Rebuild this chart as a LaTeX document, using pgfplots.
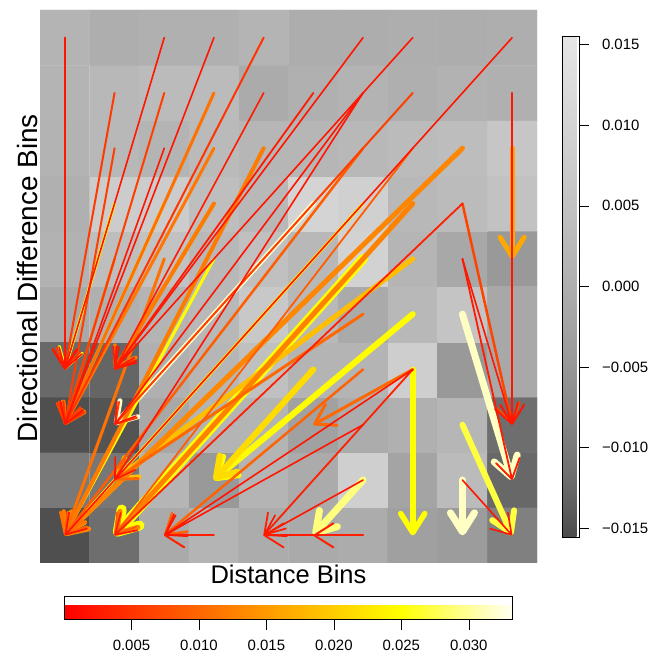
\documentclass[border=0pt]{standalone}
\usepackage{fontspec}
\setmainfont{Liberation Sans}
\usepackage{pgfplots}
\usepgfplotslibrary{colormaps}
\usetikzlibrary{arrows.meta}
\pgfplotsset{compat=1.18}

% heatmap cells: column x, row y (y=1 is the bottom row)
\pgfplotstableread{
x y v
1 1 -0.0152
2 1 -0.0118
3 1 -0.0009
4 1 0.0014
5 1 -0.0005
6 1 -0.0009
7 1 -0.0005
8 1 -0.0032
9 1 -0.0040
10 1 -0.0091
1 2 -0.0101
2 2 -0.0105
3 2 0.0017
4 2 -0.0046
5 2 0.0014
6 2 -0.0007
7 2 0.0086
8 2 -0.0023
9 2 0.0032
10 2 -0.0125
1 3 -0.0153
2 3 -0.0147
3 3 -0.0014
4 3 0.0014
5 3 0.0014
6 3 -0.0028
7 3 -0.0005
8 3 0.0004
9 3 0.0019
10 3 -0.0118
1 4 -0.0123
2 4 -0.0128
3 4 0.0004
4 4 0.0019
5 4 0.0045
6 4 0.0014
7 4 0.0014
8 4 0.0083
9 4 -0.0046
10 4 -0.0014
1 5 -0.0012
2 5 0.0004
3 5 0.0014
4 5 0.0024
5 5 0.0066
6 5 0.0024
7 5 -0.0009
8 5 0.0024
9 5 0.0056
10 5 -0.0014
1 6 0.0009
2 6 0.0040
3 6 0.0050
4 6 0.0024
5 6 0.0045
6 6 0.0024
7 6 0.0094
8 6 0.0017
9 6 -0.0014
10 6 -0.0046
1 7 0.0004
2 7 0.0077
3 7 0.0077
4 7 0.0040
5 7 0.0024
6 7 0.0100
7 7 0.0089
8 7 0.0024
9 7 0.0032
10 7 0.0050
1 8 0.0012
2 8 0.0024
3 8 0.0014
4 8 0.0029
5 8 0.0019
6 8 0.0019
7 8 0.0024
8 8 0.0032
9 8 0.0037
10 8 0.0061
1 9 0.0014
2 9 0.0024
3 9 0.0032
4 9 0.0032
5 9 -0.0007
6 9 0.0004
7 9 0.0012
8 9 0.0002
9 9 0.0009
10 9 0.0004
1 10 0.0014
2 10 -0.0001
3 10 0.0004
4 10 0.0004
5 10 0.0014
6 10 -0.0002
7 10 -0.0002
8 10 0.0000
9 10 -0.0002
10 10 0.0000
}\cells

% arrows: start (x,y), displacement (u,v), value c, line width w
\pgfplotstableread{
x y u v c w
6 7 -4 -4 0.0320 5
9 5 1 -3 0.0315 7
9 2 0 -1 0.0315 7
7 2 -1 -1 0.0290 7
9 3 1 -2 0.0270 6
7 6 -5 -5 0.0250 10
8 4 0 -3 0.0250 5.5
8 5 -4 -3 0.0245 6
4 6 -3 -5 0.0245 3
2 7 -1 -3 0.0245 3
3 7 -2 -4 0.0245 3
7 7 -6 -6 0.0240 3
6 4 -2 -2 0.0215 6
8 6 -6 -4 0.0185 5
10 8 0 -2 0.0165 5
9 8 -8 -7 0.0130 5
8 7 -6 -6 0.0125 5
4 7 -2 -3 0.0120 4
5 8 -4 -7 0.0120 4
4 8 -3 -5 0.0115 3
4 9 -3 -6 0.0110 3
3 6 -2 -5 0.0110 3
2 6 -1 -3 0.0105 2.5
8 4 -2 -1 0.0100 3
7 5 -5 -3 0.0100 3
7 4 -4 -3 0.0095 2.5
7 8 -6 -7 0.0090 2.5
8 8 -6 -7 0.0090 1.8
9 7 1 -4 0.0065 2.5
8 9 -6 -6 0.0060 2
3 9 -2 -6 0.0060 2
2 8 -1 -5 0.0060 2
2 9 -1 -5 0.0055 2
5 10 -4 -7 0.0050 2
1 8 0 -4 0.0035 2.5
9 7 -7 -6 0.0030 1.8
1 10 0 -6 0.0020 1.8
3 10 -2 -6 0.0020 1.6
4 10 -3 -7 0.0020 1.6
7 10 -5 -6 0.0020 1.6
8 10 -6 -6 0.0020 1.6
10 10 -9 -9 0.0020 1.6
5 9 -3 -5 0.0025 1.6
6 9 -4 -5 0.0025 1.8
7 9 -5 -6 0.0020 1.6
7 9 -5 -7 0.0020 1.6
3 8 -2 -5 0.0020 1.6
10 9 0 -6 0.0020 2
9 6 1 -4 0.0025 1.8
9 6 1 -3 0.0020 1.6
8 4 -3 -3 0.0030 1.8
8 4 -5 -3 0.0020 1.6
7 2 -2 -1 0.0020 1.6
9 2 1 -1 0.0020 1.6
4 1 -1 0 0.0030 2
7 1 -1 0 0.0030 2
6 1 -1 0 0.0025 1.8
7 3 -4 -2 0.0020 1.6
}\arrows

\begin{document}
\begin{tikzpicture}
\useasboundingbox (0,0) rectangle (649bp,656bp);
\begin{axis}[
  at={(40bp,93bp)}, anchor=south west,
  scale only axis, width=497bp, height=553bp,
  xmin=0.5, xmax=10.5, ymin=0.5, ymax=10.5,
  axis line style={draw=none}, xtick=\empty, ytick=\empty,
  colormap={grays}{gray(0cm)=(0.3); gray(1cm)=(0.436); gray(2cm)=(0.534);
    gray(3cm)=(0.614); gray(4cm)=(0.683); gray(5cm)=(0.744);
    gray(6cm)=(0.800); gray(7cm)=(0.852); gray(8cm)=(0.9)},
  point meta min=-0.01553, point meta max=0.01553,
  xlabel={Distance Bins}, ylabel={Directional Difference Bins},
  xlabel style={at={(axis description cs:0.5,-0.004)}, anchor=north,
    inner sep=0pt, font=\fontsize{25.6}{26}\selectfont},
  ylabel style={at={(axis description cs:-0.004,0.515)}, anchor=south,
    inner sep=0pt, font=\fontsize{28}{29}\selectfont},
  colorbar right,
  colorbar style={
    at={(parent axis.north east)}, anchor=north west,
    xshift=17bp, yshift=-26bp,
    scale only axis, width=17bp, height=501bp,
    scaled y ticks=false,
    ytick={-0.015,-0.01,-0.005,0,0.005,0.01,0.015},
    yticklabels={−0.015,−0.010,−0.005,0.000,0.005,0.010,0.015},
    ytick pos=right, yticklabel pos=right,
    tick align=outside, major tick length=9bp,
    tick style={black, line width=0.6bp},
    axis line style={black, line width=0.6bp},
    yticklabel style={font=\fontsize{15}{15}\selectfont, xshift=10bp},
  },
]
\addplot[matrix plot*, mesh/cols=10, point meta=explicit]
  table[x=x, y=y, meta=v] {\cells};
\end{axis}
\begin{axis}[
  at={(40bp,93bp)}, anchor=south west,
  scale only axis, width=497bp, height=553bp,
  xmin=0.5, xmax=10.5, ymin=0.5, ymax=10.5,
  hide axis, clip=false,
  colormap={heat}{rgb255(0cm)=(255,0,0); rgb255(3cm)=(255,128,0);
    rgb255(6cm)=(255,255,0); rgb255(7cm)=(255,255,128); rgb255(8cm)=(255,255,242)},
  point meta min=0, point meta max=0.0332,
  colorbar horizontal,
  colorbar style={
    at={(parent axis.south west)}, anchor=north west,
    xshift=24bp, yshift=-25bp,
    scale only axis, width=448bp, height=23bp,
    scaled x ticks=false,
    xtick={0.005,0.01,0.015,0.02,0.025,0.03},
    xticklabels={0.005,0.010,0.015,0.020,0.025,0.030},
    xtick pos=bottom, xticklabel pos=bottom,
    tick align=outside, major tick length=10bp,
    tick style={black, line width=0.6bp},
    axis line style={black, line width=0.6bp},
    xticklabel style={font=\fontsize{15}{15}\selectfont, yshift=-7bp},
  },
]
\addplot[point meta=\thisrow{c},
  visualization depends on=\thisrow{w}\as\lw,
  quiver={u=\thisrow{u}, v=\thisrow{v}, colored,
    every arrow/.append style={line width=\lw bp, line cap=round,
      -{Straight Barb[round, length=19bp, width=24bp]}}}]
  table[x=x, y=y] {\arrows};
\end{axis}
\end{tikzpicture}
\end{document}
